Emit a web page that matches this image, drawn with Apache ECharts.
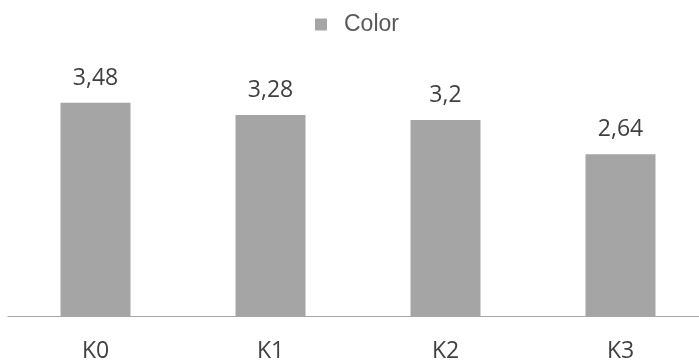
<!DOCTYPE html>
<html>
<head>
<meta charset="utf-8">
<script src="https://cdn.jsdelivr.net/npm/echarts@6/dist/echarts.min.js"></script>
<style>html,body{margin:0;padding:0;background:#fff;overflow:hidden;}#c{width:708px;height:363px;}</style>
</head>
<body>
<div id="c"></div>
<script>
var categories = ['K0', 'K1', 'K2', 'K3'];
var colorValues = [3.48, 3.28, 3.2, 2.64];
var seriesName = 'Color';

var chart = echarts.init(document.getElementById('c'));
chart.setOption({
  animation: false,
  legend: {
    data: [seriesName],
    top: 8,
    left: 310,
    itemWidth: 12,
    itemHeight: 12,
    icon: 'rect',
    textStyle: { fontFamily: 'Liberation Sans', fontSize: 23, color: '#595959', padding: [0, 0, 0, 12] }
  },
  grid: { left: 8, right: 0, top: 71, bottom: 44, containLabel: false },
  xAxis: {
    type: 'category',
    data: categories,
    axisLine: { lineStyle: { color: '#a6a6a6', width: 1 } },
    axisTick: { show: false },
    axisLabel: { fontFamily: 'Open Sans', fontSize: 23, color: '#404040', margin: 24 }
  },
  yAxis: {
    type: 'value',
    min: 0,
    max: 4,
    show: false,
    splitLine: { show: false }
  },
  series: [{
    name: seriesName,
    type: 'bar',
    data: colorValues,
    barWidth: '40%',
    itemStyle: { color: '#a5a5a5' },
    label: {
      show: true,
      position: 'top',
      distance: 13,
      fontFamily: 'Open Sans',
      fontSize: 23,
      color: '#404040',
      formatter: function (p) { return String(p.value).replace('.', ','); }
    }
  }]
});
</script>
</body>
</html>
